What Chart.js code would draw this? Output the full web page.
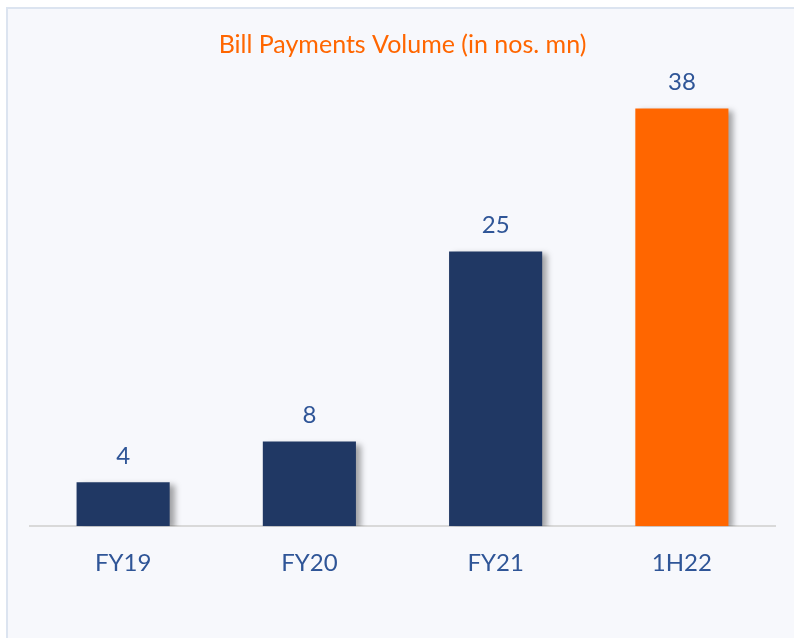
<!DOCTYPE html>
<html>
<head>
<meta charset="utf-8">
<script src="https://cdn.jsdelivr.net/npm/chart.js@4"></script>
<style>
    html, body { margin: 0; padding: 0; background: #ffffff; }
    #wrap {
        position: absolute;
        left: 6px; top: 7px;
        width: 788px; height: 631px;
        background: #f7f8fc;
        border-left: 2px solid #dce4f0;
        border-top: 2px solid #dce4f0;
    }
    #chart { position: absolute; left: -8px; top: -9px; }
</style>
</head>
<body>
<div id="wrap"><canvas id="chart" width="794" height="638"></canvas></div>
<script>
const categories = ['FY19', 'FY20', 'FY21', '1H22'];
const volumes = [4, 7.7, 25, 38];
const barColors = ['#203864', '#203864', '#203864', '#ff6600'];
const chartTitle = 'Bill Payments Volume (in nos. mn)';

const textBlue = '#2f5597';
const fontFamily = 'Lato, "Open Sans", sans-serif';

// soft drop shadow behind the bars
const barShadow = {
    id: 'barShadow',
    beforeDatasetsDraw(chart) {
        const ctx = chart.ctx;
        ctx.save();
        ctx.shadowColor = 'rgba(0, 0, 0, 0.35)';
        ctx.shadowBlur = 6;
        ctx.shadowOffsetX = 5;
        ctx.shadowOffsetY = 3;
    },
    afterDatasetsDraw(chart) {
        chart.ctx.restore();
    }
};

// value labels above each bar
const valueLabels = {
    id: 'valueLabels',
    afterDraw(chart) {
        const ctx = chart.ctx;
        const meta = chart.getDatasetMeta(0);
        ctx.save();
        ctx.font = '24px ' + fontFamily;
        ctx.fillStyle = textBlue;
        ctx.textAlign = 'center';
        ctx.textBaseline = 'middle';
        meta.data.forEach((bar, i) => {
            ctx.fillText(String(Math.round(volumes[i])), bar.x, bar.y - 26);
        });
        ctx.restore();
    }
};

const ctx = document.getElementById('chart').getContext('2d');
new Chart(ctx, {
    type: 'bar',
    data: {
        labels: categories,
        datasets: [{
            data: volumes,
            backgroundColor: barColors,
            borderWidth: 0,
            categoryPercentage: 1,
            barPercentage: 0.5
        }]
    },
    options: {
        responsive: false,
        animation: false,
        layout: {
            padding: { left: 30, right: 19, top: 0, bottom: 45 }
        },
        plugins: {
            legend: { display: false },
            tooltip: { enabled: false },
            title: {
                display: true,
                text: chartTitle,
                color: '#ff6600',
                font: { family: fontFamily, size: 25, weight: 'normal', lineHeight: 1.2 },
                padding: { top: 30, bottom: 10 }
            }
        },
        scales: {
            x: {
                grid: { display: false },
                border: { display: true, color: '#d9d9d9', width: 2 },
                ticks: {
                    color: textBlue,
                    padding: 15,
                    font: { family: fontFamily, size: 24, lineHeight: 1.2 }
                }
            },
            y: {
                display: false,
                min: 0,
                max: 41.5
            }
        }
    },
    plugins: [barShadow, valueLabels]
});
</script>
</body>
</html>
